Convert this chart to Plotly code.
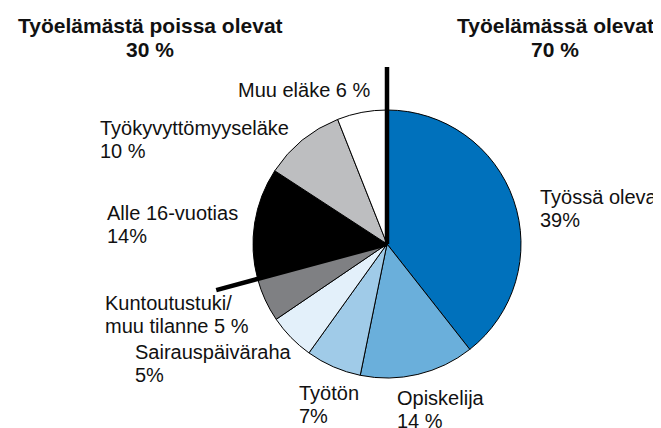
import numpy as np
import plotly.graph_objects as go

# data (slice sizes; printed labels below)
labels = ['Työssä oleva', 'Opiskelija', 'Työtön', 'Sairauspäiväraha',
          'Kuntoutustuki/muu tilanne', 'Alle 16-vuotias', 'Työkyvyttömyyseläke', 'Muu eläke']
values = [39.4, 13.8, 6.7, 5.6, 5.3, 13.4, 9.8, 6.0]
colors = ['#0071BC', '#6AAFDB', '#A0CBE8', '#E3F0FA', '#7F8083', '#000000', '#BDBEC0', '#FFFFFF']
group_titles = ['Työelämästä poissa olevat', 'Työelämässä olevat']
group_shares = ['30 %', '70 %']
n_working = 5  # first five slices = työelämässä

slice_text = [
    ['Työssä oleva', '39%'],
    ['Opiskelija', '14 %'],
    ['Työtön', '7%'],
    ['Sairauspäiväraha', '5%'],
    ['Kuntoutustuki/', 'muu tilanne 5 %'],
    ['Alle 16-vuotias', '14%'],
    ['Työkyvyttömyyseläke', '10 %'],
    ['Muu eläke 6 %'],
]

# page body has an 8px margin, so the figure is shifted and made smaller
OFF = 8
W, H = 661 - OFF, 428 - OFF
cx, cy, r = 387, 244, 134
FONT = 'Liberation Sans'

fig = go.Figure()
fig.add_trace(go.Pie(
    labels=labels, values=values, sort=False, direction='clockwise', rotation=0,
    marker=dict(colors=colors, line=dict(color='black', width=1)),
    textinfo='none', hoverinfo='label', showlegend=False,
    domain=dict(x=[(cx - r - OFF) / W, (cx + r - OFF) / W],
                y=[1 - (cy + r - OFF) / H, 1 - (cy - r - OFF) / H]),
))

# dividing lines between the two groups (pixel axes, y down)
frac = sum(values[:n_working]) / sum(values)
L = 1.32 * r
shapes = []
for a in [0.0, frac * 2 * np.pi]:
    shapes.append(dict(type='line', xref='x', yref='y', layer='above',
                       x0=cx, y0=cy, x1=cx + L * np.sin(a), y1=cy - L * np.cos(a),
                       line=dict(color='black', width=4.5)))

# label placement (left x, middle y of first line)
label_pos = [(538, 197), (395, 398), (297, 393), (133, 352), (103, 303), (105, 213), (98, 128), (236, 90)]
line_gap = 22.5
annotations = []
for lines, (lx, ly) in zip(slice_text, label_pos):
    for i, t in enumerate(lines):
        annotations.append(dict(x=lx, y=ly + i * line_gap, xref='x', yref='y', text=t,
                                showarrow=False, xanchor='left', yanchor='middle',
                                font=dict(size=20, color='#111111', family=FONT)))

for title, share, tx in zip(group_titles, group_shares, [150, 555]):
    annotations.append(dict(x=tx, y=25, xref='x', yref='y', text='<b>' + title + '</b>',
                            showarrow=False, xanchor='center', yanchor='middle',
                            font=dict(size=21, color='#111111', family=FONT)))
    annotations.append(dict(x=tx, y=49.5, xref='x', yref='y', text='<b>' + share + '</b>',
                            showarrow=False, xanchor='center', yanchor='middle',
                            font=dict(size=21, color='#111111', family=FONT)))

fig.update_layout(
    width=W, height=H, margin=dict(l=0, r=0, t=0, b=0),
    paper_bgcolor='white', plot_bgcolor='rgba(0,0,0,0)',
    xaxis=dict(range=[OFF, OFF + W], visible=False, fixedrange=True),
    yaxis=dict(range=[OFF + H, OFF], visible=False, fixedrange=True),
    shapes=shapes, annotations=annotations,
)

fig.write_html('out.html')
